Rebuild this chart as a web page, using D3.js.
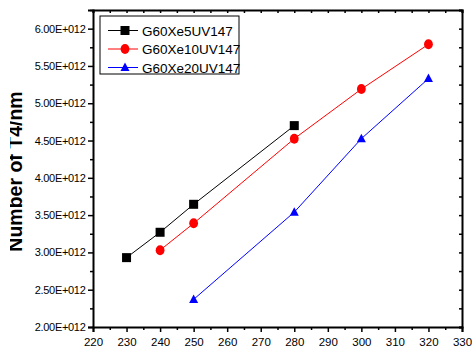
<!DOCTYPE html>
<html>
<head>
<meta charset="utf-8">
<script src="https://cdn.jsdelivr.net/npm/d3@7"></script>
<style>
  body { margin: 0; background: #fff; }
  svg { display: block; font-family: Arial, "Liberation Sans", sans-serif; }
</style>
</head>
<body>
<div id="chart"></div>
<script>
// series data (wavelength, number)
const xG5 = [230, 240, 250, 280];
const yG5 = [2.93e12, 3.27e12, 3.645e12, 4.70e12];
const xG10 = [240, 250, 280, 300, 320];
const yG10 = [3.03e12, 3.39e12, 4.525e12, 5.19e12, 5.79e12];
const xG20 = [250, 280, 300, 320];
const yG20 = [2.37e12, 3.54e12, 4.525e12, 5.33e12];
const seriesNames = ["G60Xe5UV147", "G60Xe10UV147", "G60Xe20UV147"];
const xTicks = [220, 230, 240, 250, 260, 270, 280, 290, 300, 310, 320, 330];
const yTicks = [2.0e12, 2.5e12, 3.0e12, 3.5e12, 4.0e12, 4.5e12, 5.0e12, 5.5e12, 6.0e12];
const yLabel = "Number of T4/nm";

const W = 472, H = 352;
const plot = { left: 93, right: 462, top: 10, bottom: 327 };

const svg = d3.select("#chart").append("svg")
  .attr("width", W).attr("height", H);

const x = d3.scaleLinear().domain([220, 330]).range([plot.left, plot.right]);
const y = d3.scaleLinear().domain([2.0e12, 6.25e12]).range([plot.bottom, plot.top]);

const fmt = v => (v / 1e12).toFixed(2) + "E+012";
const xMinor = d3.range(225, 330, 10);
const yMinor = d3.range(2.25e12, 6.3e12, 0.5e12);

function styleAxis(g) {
  g.select(".domain").attr("stroke", "#000").attr("stroke-width", 2);
  g.selectAll(".tick line").attr("stroke", "#000").attr("stroke-width", 1.5);
}

// bottom axis
svg.append("g")
  .attr("transform", `translate(0,${plot.bottom})`)
  .call(d3.axisBottom(x).tickValues(xTicks).tickSize(5).tickPadding(6).tickFormat(d3.format("d")))
  .call(styleAxis)
  .call(g => g.selectAll("text").attr("font-size", "11.5px").attr("fill", "#000"));
svg.append("g")
  .attr("transform", `translate(0,${plot.bottom})`)
  .call(d3.axisBottom(x).tickValues(xMinor).tickSize(3).tickFormat(""))
  .call(styleAxis)
  .call(g => g.select(".domain").remove());

// left axis
svg.append("g")
  .attr("transform", `translate(${plot.left},0)`)
  .call(d3.axisLeft(y).tickValues(yTicks).tickSize(5).tickPadding(2.5).tickFormat(fmt))
  .call(styleAxis)
  .call(g => g.selectAll("text").attr("font-size", "11px").attr("letter-spacing", "-0.3px").attr("fill", "#000"));
svg.append("g")
  .attr("transform", `translate(${plot.left},0)`)
  .call(d3.axisLeft(y).tickValues(yMinor).tickSize(3).tickFormat(""))
  .call(styleAxis)
  .call(g => g.select(".domain").remove());

// top axis, ticks inward
svg.append("g")
  .attr("transform", `translate(0,${plot.top})`)
  .call(d3.axisTop(x).tickValues(xTicks.concat(xMinor)).tickSize(-3).tickFormat(""))
  .call(styleAxis);

// right axis, ticks inward
svg.append("g")
  .attr("transform", `translate(${plot.right},0)`)
  .call(d3.axisRight(y).tickValues(yTicks.concat(yMinor)).tickSize(-3).tickFormat(""))
  .call(styleAxis);

// y label, clipped on its left side like the original export
svg.append("clipPath").attr("id", "labelClip")
  .append("rect").attr("x", 10).attr("y", 0).attr("width", 40).attr("height", H);
svg.append("g")
  .attr("clip-path", "url(#labelClip)")
  .append("text")
  .attr("transform", `translate(22,${(plot.top + plot.bottom) / 2 + 3}) rotate(-90)`)
  .attr("text-anchor", "middle")
  .attr("font-size", "19.5px")
  .attr("font-weight", "bold")
  .text(yLabel);

const series = [
  { name: seriesNames[0], xs: xG5, ys: yG5, color: "#000000", shape: "square" },
  { name: seriesNames[1], xs: xG10, ys: yG10, color: "#ff0000", shape: "circle" },
  { name: seriesNames[2], xs: xG20, ys: yG20, color: "#0000ff", shape: "triangle" }
];

function drawMarker(g, shape, color, cx, cy) {
  if (shape === "square") {
    g.append("rect").attr("x", cx - 4.5).attr("y", cy - 4.5)
      .attr("width", 9).attr("height", 9).attr("fill", color);
  } else if (shape === "circle") {
    g.append("ellipse").attr("cx", cx).attr("cy", cy)
      .attr("rx", 4.4).attr("ry", 5).attr("fill", color);
  } else {
    g.append("path")
      .attr("d", `M${cx},${cy - 5}L${cx + 4.5},${cy + 3.5}L${cx - 4.5},${cy + 3.5}Z`)
      .attr("fill", color);
  }
}

const line = d3.line().x(d => x(d[0])).y(d => y(d[1]));

series.forEach(s => {
  const pts = s.xs.map((v, i) => [v, s.ys[i]]);
  svg.append("path")
    .datum(pts)
    .attr("fill", "none")
    .attr("stroke", s.color)
    .attr("stroke-width", 1)
    .attr("d", line);
  const mg = svg.append("g");
  pts.forEach(p => drawMarker(mg, s.shape, s.color, x(p[0]), y(p[1])));
});

// legend
const leg = svg.append("g").attr("transform", "translate(100,16)");
leg.append("rect").attr("width", 139).attr("height", 58)
  .attr("fill", "#fff").attr("stroke", "#000").attr("stroke-width", 1);
series.forEach((s, i) => {
  const cy = 14.5 + i * 18.5;
  leg.append("line").attr("x1", 8).attr("x2", 38).attr("y1", cy).attr("y2", cy)
    .attr("stroke", s.color).attr("stroke-width", 1);
  drawMarker(leg, s.shape, s.color, 25, cy);
  leg.append("text").attr("x", 42).attr("y", cy + 5)
    .attr("font-size", "13.5px").attr("fill", "#000")
    .text(s.name);
});
</script>
</body>
</html>
